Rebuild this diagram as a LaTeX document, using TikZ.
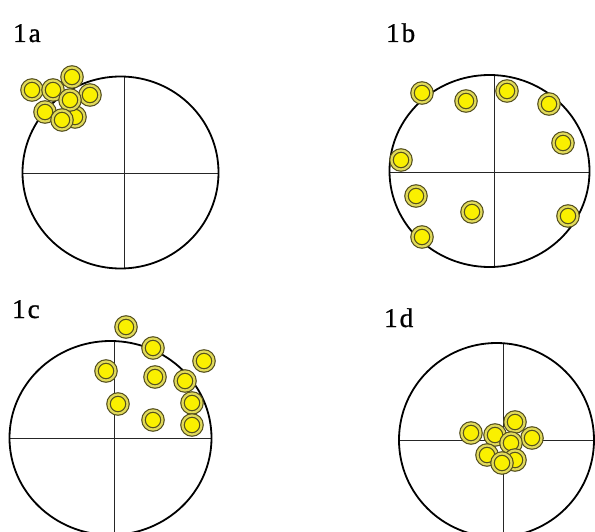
\documentclass[tikz,border=0pt]{standalone}
\usepackage{fontspec}
\setmainfont{Liberation Serif}
\newfontfamily\rotfonte[FakeBold=1]{Liberation Serif}
\usepackage{xcolor}
\usepackage{tikz}
\usetikzlibrary{positioning}
\definecolor{amarelo}{RGB}{250,240,0}
\definecolor{faixa}{RGB}{225,218,90}
\definecolor{oliva}{RGB}{85,80,30}
\tikzset{
  alvo/.style={line width=1.8pt, black},
  eixo/.style={line width=0.9pt, black!85},
  bola/.style={circle, draw=oliva, fill=amarelo, line width=1.2pt,
               double=faixa, double distance=2.2pt, minimum size=19pt,
               inner sep=0pt},
  rotulo/.style={font=\rotfonte\fontsize{27}{27}\selectfont, anchor=base west,
                 inner sep=0pt}
}

\begin{document}
\begin{tikzpicture}[x=1pt, y=-1pt]
  \clip (0,0) rectangle (595,532);
  \fill[white] (0,0) rectangle (595,532);
  % alvos com os eixos
  \foreach \nome/\cx/\cy/\rx/\ry/\ex/\ey in {a/120.5/172.5/98/96/124/173.5,
      b/489.5/171/100/96/494/172, c/110.5/438/101/97/114/438,
      d/496.5/440/97.5/97/503/440} {
    \coordinate (o\nome) at (\ex,\ey);
    \draw[eixo] (\cx-\rx,\ey) -- (\cx+\rx,\ey);
    \draw[eixo] (\ex,\cy-\ry) -- (\ex,\cy+\ry);
    \draw[alvo] (\cx,\cy) ellipse [x radius=\rx, y radius=\ry];
  }
  % rotulos
  \node[rotulo] (r1a) at (13,42) {1\kern2pt a};
  \node[rotulo] (r1b) at (386,42) {1\kern2pt b};
  \node[rotulo] (r1c) at (12,318) {1\kern2pt c};
  \node[rotulo] (r1d) at (384,327) {1\kern2pt d};
  % tiros
  \foreach \x/\y [count=\i] in {32/90, 53/90, 72/77, 90/95, 75/117,
      45/112, 70/100, 62/120}
    \node[bola] (a\i) at (\x,\y) {};
  \foreach \x/\y [count=\i] in {422/93, 466/101, 507/91, 549/104, 563/143,
      401/160, 416/196, 472/212, 422/237, 568/216}
    \node[bola] (b\i) at (\x,\y) {};
  \foreach \x/\y [count=\i] in {126/327, 153/348, 204/361, 106/371, 155/377,
      185/381, 118/404, 192/403, 153/420, 192/425}
    \node[bola] (c\i) at (\x,\y) {};
  \foreach \x/\y [count=\i] in {471/433, 495/435, 515/422, 532/438, 511/443,
      487/455, 515/460, 502/463}
    \node[bola] (d\i) at (\x,\y) {};
\end{tikzpicture}
\end{document}
